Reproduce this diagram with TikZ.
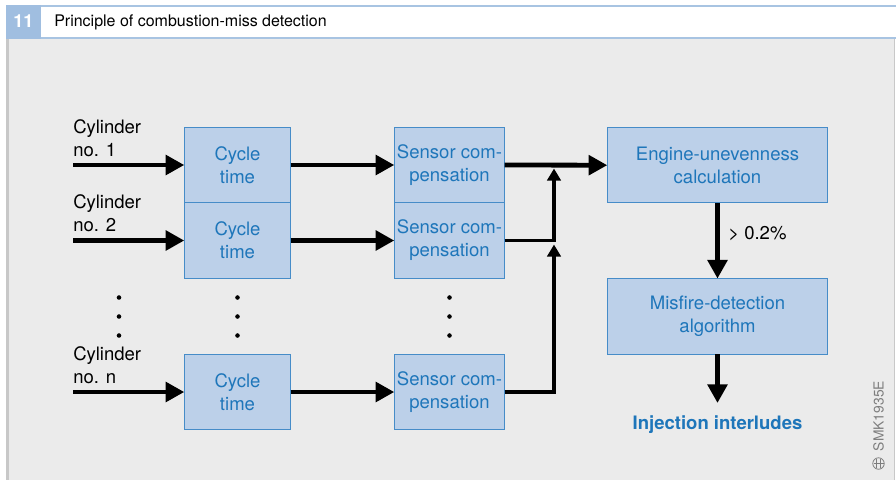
\documentclass[tikz,border=0pt]{standalone}
\usepackage{fontspec}
\setmainfont{TeX Gyre Heros}
\usetikzlibrary{arrows.meta}
\definecolor{bg}{RGB}{235,235,235}
\definecolor{boxfill}{RGB}{188,208,233}
\definecolor{boxline}{RGB}{70,140,200}
\definecolor{boxtext}{RGB}{30,118,186}
\definecolor{hdrblue}{RGB}{168,196,226}
\definecolor{numblue}{RGB}{160,190,224}
\definecolor{framegray}{RGB}{200,200,200}
\definecolor{codegray}{RGB}{125,125,125}
\tikzset{
  blockbox/.style={draw=boxline, fill=boxfill, line width=0.8pt, inner sep=0pt, outer sep=0pt,
    minimum height=56.6pt, text=boxtext, align=center, font=\fontsize{13.9}{17.25}\selectfont},
  flow/.style={line width=3.6pt, -{Triangle[length=14pt,width=14.5pt]}},
  joinarrow/.style={line width=2.6pt, -{Triangle[length=9pt,width=10pt]}},
  lbl/.style={font=\fontsize{13.9}{17.25}\selectfont, inner sep=0pt, align=left},
  dotmark/.style={fill=black, circle, inner sep=0pt, minimum size=3.4pt}
}
\begin{document}
\begin{tikzpicture}[x=0.75pt,y=-0.75pt]
\useasboundingbox (0,0) rectangle (896,480);
\fill[white] (0,0) rectangle (896,480);
% frame
\fill[bg] (6,38) rectangle (895,480);
\fill[framegray] (6,38) rectangle (8.5,480);
\draw[framegray, line width=0.8pt] (894.6,38) -- (894.6,480);
\fill[white] (6,6) rectangle (895,38);
\draw[hdrblue, line width=1.5pt] (6,6) -- (895.5,6);
\draw[hdrblue, line width=2pt] (6,38) -- (895.5,38);
\fill[numblue] (6,5) rectangle (41,39);
\node[text=white, font=\bfseries\fontsize{13.5}{15}\selectfont] (num) at (23.5,21.5) {11};
\node[anchor=base west, font=\fontsize{12}{14}\selectfont, inner sep=0pt] (title) at (54,26) {Principle of combustion-miss detection};

% cycle time boxes
\node[blockbox, minimum width=79.8pt] (c1) at (237.5,165) {Cycle\\time};
\node[blockbox, minimum width=79.8pt] (c2) at (237.5,240.5) {Cycle\\time};
\node[blockbox, minimum width=79.8pt] (cn) at (237.5,392) {Cycle\\time};
% sensor compensation boxes
\node[blockbox, minimum width=82.8pt] (s1) at (449.5,165) {Sensor com-\\pensation};
\node[blockbox, minimum width=82.8pt] (s2) at (449.5,240.5) {Sensor com-\\pensation};
\node[blockbox, minimum width=82.8pt] (sn) at (449.5,392) {Sensor com-\\pensation};
% right boxes
\node[blockbox, minimum width=165.3pt] (eng) at (717.5,165.2) {Engine-unevenness\\calculation};
\node[blockbox, minimum width=165.3pt] (mis) at (717.5,316.3) {Misfire-detection\\algorithm};

% cylinder labels
\node[lbl, anchor=base west] (l1) at (73,156) {Cylinder\\no. 1};
\node[lbl, anchor=base west] (l2) at (73,231) {Cylinder\\no. 2};
\node[lbl, anchor=base west] (ln) at (73,383) {Cylinder\\no. n};

% input coordinates
\coordinate (in1) at (73,165);
\coordinate (in2) at (73,240.5);
\coordinate (inn) at (73,392);
\draw[flow] (in1) -- (c1.west);
\draw[flow] (in2) -- (c2.west);
\draw[flow] (inn) -- (cn.west);
\draw[flow] (c1.east) -- (s1.west);
\draw[flow] (c2.east) -- (s2.west);
\draw[flow] (cn.east) -- (sn.west);
\draw[flow] (s1.east) -- (eng.west);

\coordinate (j1) at (554,168.5);
\coordinate (j2) at (554,244.5);
\draw[joinarrow] (s2.east) -| (j1);
\draw[joinarrow] (sn.east) -| (j2);

\draw[flow] (eng.south) -- (mis.north);
\coordinate (outp) at (717.5,403);
\draw[flow] (mis.south) -- (outp);

\node[anchor=base west, font=\fontsize{13.9}{17}\selectfont, inner sep=0pt] (thr) at (728,239.5) {> 0.2\%};
\node[anchor=base, text=boxtext, font=\bfseries\fontsize{13.9}{17}\selectfont, inner sep=0pt] (inj) at (717.5,429.5) {Injection interludes};

% dots
\foreach \yy in {297.5,316.5,335.5} {
  \node[dotmark] at (119,\yy) {};
  \node[dotmark] at (237.5,\yy) {};
  \node[dotmark] at (449.5,\yy) {};
}

% code
\node[rotate=90, text=codegray, font=\fontsize{10.4}{12}\selectfont, inner sep=0pt] (smk) at (878.5,416) {SMK1935E};
\draw[codegray, line width=0.6pt] (878.5,463.5) circle (4.3pt);
\draw[codegray, line width=0.6pt] (873.5,463.5) -- (883.5,463.5)
  (876.2,459) -- (876.2,468) (880.8,459) -- (880.8,468);
\end{tikzpicture}
\end{document}
